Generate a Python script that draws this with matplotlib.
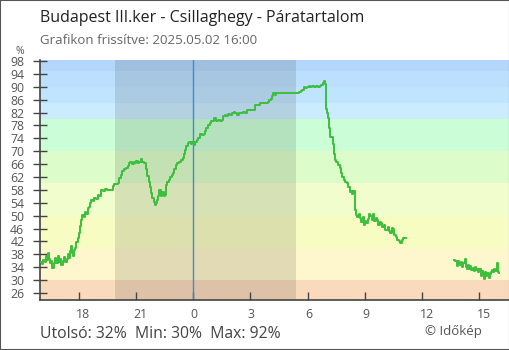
import numpy as np
import matplotlib
matplotlib.use("Agg")
import matplotlib.pyplot as plt
import matplotlib.transforms as mtransforms
from matplotlib.patches import Rectangle

plt.rcParams["font.family"] = ["Open Sans", "DejaVu Sans"]

# hours relative to midnight (2025.05.02)
t1 = [-8.00, -7.92, -7.85, -7.78, -7.72, -7.65, -7.60, -7.55, -7.48, -7.42, -7.37, -7.30,
      -7.23, -7.17, -7.10, -7.03, -6.97, -6.90, -6.83, -6.77, -6.70, -6.63, -6.57, -6.50,
      -6.44, -6.40, -6.35, -6.30, -6.25, -6.19, -6.12, -6.05, -5.98, -5.92, -5.87, -5.81,
      -5.74, -5.67, -5.60, -5.53, -5.46, -5.40, -5.33, -5.25, -5.17, -5.08, -5.00, -4.92,
      -4.85, -4.80, -4.70, -4.60, -4.50, -4.40, -4.30, -4.22, -4.12, -4.00, -3.92, -3.86,
      -3.78, -3.70, -3.60, -3.50, -3.42, -3.35, -3.28, -3.20, -3.12, -3.05, -2.98, -2.90,
      -2.82, -2.75, -2.70, -2.62, -2.55, -2.48, -2.40, -2.33, -2.27, -2.20, -2.13, -2.06,
      -2.00, -1.95, -1.88, -1.82, -1.76, -1.70, -1.63, -1.55, -1.48, -1.42, -1.35, -1.27,
      -1.20, -1.12, -1.05, -0.98, -0.90, -0.82, -0.72, -0.62, -0.55, -0.48, -0.42, -0.36,
      -0.28, -0.20, -0.12, -0.05, 0.05, 0.12, 0.20, 0.28, 0.36, 0.45, 0.55, 0.63,
      0.70, 0.78, 0.87, 0.95, 1.05, 1.12, 1.20, 1.30, 1.40, 1.50, 1.57, 1.65,
      1.75, 1.85, 1.95, 2.02, 2.12, 2.22, 2.28, 2.38, 2.50, 2.62, 2.72, 2.82,
      2.95, 3.08, 3.18, 3.25, 3.35, 3.45, 3.52, 3.65, 3.78, 3.90, 3.97, 4.06,
      4.13, 4.18, 4.28, 4.36, 4.50, 4.65, 4.80, 4.95, 5.10, 5.25, 5.40, 5.55,
      5.63, 5.72, 5.80, 5.88, 5.95, 6.05, 6.15, 6.25, 6.35, 6.45, 6.55, 6.65,
      6.72, 6.78, 6.84, 6.90, 6.95, 6.98, 7.02, 7.07, 7.12, 7.17, 7.25, 7.33,
      7.38, 7.43, 7.48, 7.58, 7.68, 7.74, 7.82, 7.90, 7.98, 8.05, 8.12, 8.20,
      8.28, 8.35, 8.40, 8.46, 8.53, 8.60, 8.68, 8.75, 8.82, 8.88, 8.95, 9.02,
      9.08, 9.15, 9.22, 9.28, 9.35, 9.42, 9.50, 9.57, 9.63, 9.70, 9.78, 9.85,
      9.92, 10.00, 10.07, 10.14, 10.20, 10.27, 10.33, 10.40, 10.47, 10.55, 10.62, 10.70,
      10.77, 10.85, 10.92, 11.00, 11.17]
hum1 = [35.5, 35.0, 36.3, 35.6, 37.6, 36.2, 38.5, 36.6, 35.2, 36.0, 33.8, 35.4,
        36.8, 35.2, 37.6, 35.7, 36.4, 34.8, 35.9, 37.3, 35.6, 36.6, 38.2, 37.0,
        39.0, 40.6, 38.5, 37.6, 39.2, 40.0, 41.8, 43.2, 44.6, 46.8, 48.8, 50.3,
        49.6, 51.0, 50.6, 52.3, 52.8, 53.8, 54.8, 54.4, 55.6, 55.2, 56.3, 56.0,
        57.2, 58.0, 57.8, 58.2, 58.0, 58.1, 58.0, 59.3, 59.8, 59.9, 60.2, 61.8,
        62.5, 64.0, 64.4, 64.8, 65.3, 66.2, 66.7, 66.0, 66.8, 66.2, 67.0, 66.4,
        66.8, 67.6, 66.6, 66.8, 66.3, 64.5, 62.4, 60.6, 59.0, 57.0, 55.6, 54.2,
        53.3, 53.8, 55.0, 56.2, 58.1, 56.0, 57.2, 56.0, 56.4, 59.5, 60.3, 61.0,
        62.0, 62.6, 63.2, 64.6, 65.8, 66.4, 66.8, 67.3, 67.8, 69.2, 70.4, 71.6,
        72.4, 72.9, 72.2, 72.8, 72.0, 73.0, 73.6, 74.2, 75.3, 75.0, 75.4, 76.2,
        77.1, 78.0, 78.7, 79.3, 79.5, 80.2, 79.4, 79.6, 79.3, 79.6, 80.9, 81.2,
        81.0, 81.6, 81.2, 82.0, 82.1, 81.9, 81.1, 82.0, 82.0, 82.1, 82.0, 82.8,
        82.9, 82.8, 82.9, 84.2, 84.4, 84.2, 85.0, 85.1, 85.0, 85.2, 86.0, 86.3,
        87.2, 88.2, 87.6, 88.2, 88.2, 88.2, 88.2, 88.2, 88.2, 88.2, 88.2, 88.3,
        88.8, 89.1, 90.0, 89.6, 90.0, 90.1, 90.0, 90.2, 90.0, 90.1, 90.0, 90.1,
        90.4, 91.3, 91.9, 91.0, 90.8, 83.0, 81.8, 80.2, 77.1, 74.5, 74.3, 72.3,
        69.0, 67.4, 66.7, 65.8, 64.8, 63.3, 62.0, 61.0, 60.6, 60.2, 59.0, 57.4,
        57.8, 56.6, 57.8, 51.8, 50.2, 49.6, 50.4, 49.2, 48.0, 49.6, 47.2, 48.4,
        47.6, 49.0, 50.6, 49.8, 48.6, 50.4, 48.2, 49.4, 48.8, 47.2, 48.0, 47.6,
        46.4, 47.2, 45.6, 45.4, 46.6, 45.2, 44.5, 46.2, 45.8, 44.0, 43.4, 42.4,
        42.0, 41.6, 42.6, 43.0, 43.0]

t2 = [13.68, 13.74, 13.80, 13.86, 13.92, 13.98, 14.04, 14.10, 14.16, 14.22, 14.28, 14.34,
      14.40, 14.46, 14.52, 14.58, 14.64, 14.70, 14.76, 14.82, 14.88, 14.94, 15.00, 15.06,
      15.12, 15.18, 15.24, 15.30, 15.36, 15.42, 15.48, 15.54, 15.60, 15.66, 15.72, 15.78,
      15.84, 15.90, 15.95, 16.00]
hum2 = [36.2, 35.8, 34.4, 35.9, 35.2, 34.6, 35.6, 34.0, 35.2, 36.7, 34.2, 33.4,
        34.8, 33.6, 34.4, 33.2, 33.8, 32.8, 34.0, 33.0, 33.4, 32.6, 33.6, 31.4,
        32.8, 32.0, 30.2, 32.6, 31.4, 32.2, 30.8, 32.0, 32.6, 33.2, 32.6, 33.4,
        32.8, 35.2, 32.4, 32.2]

band_edges = [0, 30, 40, 50, 60, 70, 80, 85, 90, 95, 100]
band_colors = ["#fadabc", "#fef6cc", "#f7fcc3", "#f2fdcd", "#dcfdc9",
               "#cbfdd6", "#cbebfe", "#bfe5fe", "#bbdffd", "#b3d7fb"]

xticks = [-6, -3, 0, 3, 6, 9, 12, 15]
xticklabels = ["18", "21", "0", "3", "6", "9", "12", "15"]
yticks = list(range(26, 99, 4))

sunset, sunrise = -4.10, 5.38

fig = plt.figure(figsize=(5.1, 3.5), dpi=100)
ax = fig.add_axes([40 / 510, 50 / 350, 469 / 510, 240 / 350])

for i, c in enumerate(band_colors):
    ax.axhspan(band_edges[i], band_edges[i + 1], color=c, lw=0, zorder=0)
ax.axvspan(sunset, sunrise, color="black", alpha=0.11, lw=0, zorder=1)
ax.axvline(0, color="#3a8dd0", lw=1, zorder=2)

ax.plot(t1, hum1, color="#3cbf3c", lw=1.4, drawstyle="steps-post", zorder=3)
ax.plot(t2, hum2, color="#3cbf3c", lw=1.4, drawstyle="steps-post", zorder=3)

ax.set_xlim(-8.02, 16.55)
ax.set_ylim(23.83, 98.31)

ax.set_xticks(xticks)
ax.set_xticklabels(xticklabels)
ax.set_yticks(yticks)
ax.tick_params(axis="y", direction="inout", length=9.5, width=1, color="#444",
               labelsize=8.8, labelcolor="#555", pad=6.5)
ax.tick_params(axis="x", direction="in", length=5.5, width=1, color="#444",
               labelsize=8.8, labelcolor="#555", pad=6)
shift = mtransforms.ScaledTranslation(-2.5 / 100, 0, fig.dpi_scale_trans)
for lab in ax.get_xticklabels():
    lab.set_horizontalalignment("left")
    lab.set_transform(lab.get_transform() + shift)
for s in ["top", "right"]:
    ax.spines[s].set_visible(False)
for s in ["left", "bottom"]:
    ax.spines[s].set_color("#444")
    ax.spines[s].set_linewidth(1.2)

fig.text(40 / 510, 1 - 18 / 350, "Budapest III.ker - Csillaghegy - Páratartalom",
         fontsize=11.5, color="#222", va="center", ha="left")
fig.text(40 / 510, 1 - 41 / 350, "Grafikon frissítve: 2025.05.02 16:00",
         fontsize=9.5, color="#666", va="center", ha="left")
fig.text(20 / 510, 1 - 52 / 350, "%", fontsize=7.5, color="#555", va="center", ha="center")
fig.text(40 / 510, 1 - 334 / 350, "Utolsó: 32%  Min: 30%  Max: 92%",
         fontsize=11.3, color="#444", va="center", ha="left")
fig.text(482 / 510, 1 - 332 / 350, "© Időkép",
         fontsize=9.5, color="#555", va="center", ha="right")

fig.patches.append(Rectangle((0, 0), 1, 1, transform=fig.transFigure, fill=False,
                             edgecolor="#555", lw=1.5))

fig.savefig("out.png", dpi=100)
